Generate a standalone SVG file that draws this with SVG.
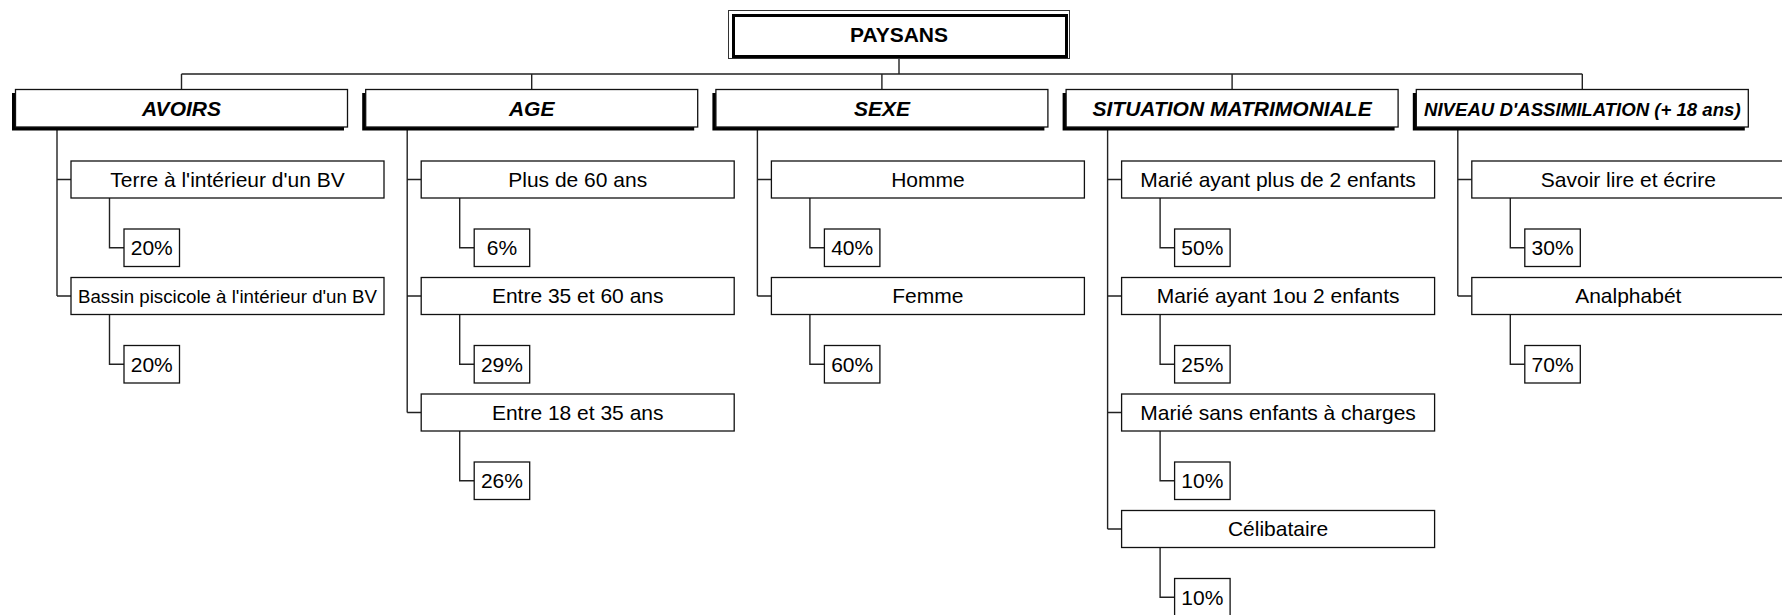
<svg xmlns="http://www.w3.org/2000/svg" width="1782" height="615" viewBox="0 0 1782 615">
<style>
text{font-family:"Liberation Sans",Arial,sans-serif;fill:#000;text-anchor:middle}
.t{font-size:21px}
.h{font-size:21px;font-weight:bold;font-style:italic}
.box{fill:#fff;stroke:#111;stroke-width:1.3}
.sh{fill:#000}
.ln{fill:none;stroke:#222;stroke-width:1.4}
</style>
<rect width="1782" height="615" fill="#fff"/>
<g id="connectors" class="ln">
<path d="M899,58.5V74M181.5,74H1582.3M181.5,74V89.5M531.7,74V89.5M881.9,74V89.5M1232.1,74V89.5M1582.3,74V89.5"/>
<!-- col0 -->
<path d="M57,127V296M57,179.5H71M57,296H71M109.5,198V247.75H124M109.5,314.5V364.25H124"/>
<!-- col1 -->
<path d="M407.2,127V412.5M407.2,179.5H421.2M407.2,296H421.2M407.2,412.5H421.2M459.7,198V247.75H474.2M459.7,314.5V364.25H474.2M459.7,431V480.75H474.2"/>
<!-- col2 -->
<path d="M757.4,127V296M757.4,179.5H771.4M757.4,296H771.4M809.9,198V247.75H824.4M809.9,314.5V364.25H824.4"/>
<!-- col3 -->
<path d="M1107.6,127V529M1107.6,179.5H1121.6M1107.6,296H1121.6M1107.6,412.5H1121.6M1107.6,529H1121.6M1160.1,198V247.75H1174.6M1160.1,314.5V364.25H1174.6M1160.1,431V480.75H1174.6M1160.1,547.5V597.25H1174.6"/>
<!-- col4 -->
<path d="M1457.8,127V296M1457.8,179.5H1471.8M1457.8,296H1471.8M1510.3,198V247.75H1524.8M1510.3,314.5V364.25H1524.8"/>
</g>
<g id="paysans">
<rect x="728.5" y="10.5" width="341" height="48" fill="#fff" stroke="#333" stroke-width="1"/>
<rect x="733.5" y="15.5" width="333" height="41" fill="#fff" stroke="#000" stroke-width="3"/>
<text x="899" y="42" style="font-size:21px;font-weight:bold">PAYSANS</text>
</g>
<g id="avoirs">
<rect class="sh" x="12" y="93" width="332" height="37.5"/>
<rect class="box" x="15.5" y="89.5" width="332" height="37.5"/>
<text class="h" x="181.5" y="116">AVOIRS</text>
</g>
<g id="age">
<rect class="sh" x="362.2" y="93" width="332" height="37.5"/>
<rect class="box" x="365.7" y="89.5" width="332" height="37.5"/>
<text class="h" x="531.7" y="116">AGE</text>
</g>
<g id="sexe">
<rect class="sh" x="712.4" y="93" width="332" height="37.5"/>
<rect class="box" x="715.9" y="89.5" width="332" height="37.5"/>
<text class="h" x="881.9" y="116">SEXE</text>
</g>
<g id="situation">
<rect class="sh" x="1062.6" y="93" width="332" height="37.5"/>
<rect class="box" x="1066.1" y="89.5" width="332" height="37.5"/>
<text class="h" x="1232.1" y="116">SITUATION MATRIMONIALE</text>
</g>
<g id="niveau">
<rect class="sh" x="1412.8" y="93" width="332" height="37.5"/>
<rect class="box" x="1416.3" y="89.5" width="332" height="37.5"/>
<text class="h" x="1582.3" y="115.5" style="font-size:18.6px">NIVEAU D'ASSIMILATION (+ 18 ans)</text>
</g>
<!-- AVOIRS children -->
<g id="terre"><rect class="box" x="71" y="161" width="313" height="37"/><text class="t" x="227.5" y="186.5">Terre à l'intérieur d'un BV</text></g>
<g id="terre-pct"><rect class="box" x="124" y="229" width="55.5" height="37.5"/><text class="t" x="151.75" y="255">20%</text></g>
<g id="bassin"><rect class="box" x="71" y="277.5" width="313" height="37"/><text class="t" x="227.5" y="302.5" style="font-size:18.7px">Bassin piscicole à l'intérieur d'un BV</text></g>
<g id="bassin-pct"><rect class="box" x="124" y="345.5" width="55.5" height="37.5"/><text class="t" x="151.75" y="371.5">20%</text></g>
<!-- AGE children -->
<g id="age60"><rect class="box" x="421.2" y="161" width="313" height="37"/><text class="t" x="577.7" y="186.5">Plus de 60 ans</text></g>
<g id="age60-pct"><rect class="box" x="474.2" y="229" width="55.5" height="37.5"/><text class="t" x="501.95" y="255">6%</text></g>
<g id="age35"><rect class="box" x="421.2" y="277.5" width="313" height="37"/><text class="t" x="577.7" y="303">Entre 35 et 60 ans</text></g>
<g id="age35-pct"><rect class="box" x="474.2" y="345.5" width="55.5" height="37.5"/><text class="t" x="501.95" y="371.5">29%</text></g>
<g id="age18"><rect class="box" x="421.2" y="394" width="313" height="37"/><text class="t" x="577.7" y="419.5">Entre 18 et 35 ans</text></g>
<g id="age18-pct"><rect class="box" x="474.2" y="462" width="55.5" height="37.5"/><text class="t" x="501.95" y="488">26%</text></g>
<!-- SEXE children -->
<g id="homme"><rect class="box" x="771.4" y="161" width="313" height="37"/><text class="t" x="927.9" y="186.5">Homme</text></g>
<g id="homme-pct"><rect class="box" x="824.4" y="229" width="55.5" height="37.5"/><text class="t" x="852.15" y="255">40%</text></g>
<g id="femme"><rect class="box" x="771.4" y="277.5" width="313" height="37"/><text class="t" x="927.9" y="303">Femme</text></g>
<g id="femme-pct"><rect class="box" x="824.4" y="345.5" width="55.5" height="37.5"/><text class="t" x="852.15" y="371.5">60%</text></g>
<!-- SITUATION children -->
<g id="m2"><rect class="box" x="1121.6" y="161" width="313" height="37"/><text class="t" x="1278.1" y="186.5">Marié ayant plus de 2 enfants</text></g>
<g id="m2-pct"><rect class="box" x="1174.6" y="229" width="55.5" height="37.5"/><text class="t" x="1202.35" y="255">50%</text></g>
<g id="m1"><rect class="box" x="1121.6" y="277.5" width="313" height="37"/><text class="t" x="1278.1" y="303">Marié ayant 1ou 2 enfants</text></g>
<g id="m1-pct"><rect class="box" x="1174.6" y="345.5" width="55.5" height="37.5"/><text class="t" x="1202.35" y="371.5">25%</text></g>
<g id="m0"><rect class="box" x="1121.6" y="394" width="313" height="37"/><text class="t" x="1278.1" y="419.5">Marié sans enfants à charges</text></g>
<g id="m0-pct"><rect class="box" x="1174.6" y="462" width="55.5" height="37.5"/><text class="t" x="1202.35" y="488">10%</text></g>
<g id="celib"><rect class="box" x="1121.6" y="510.5" width="313" height="37"/><text class="t" x="1278.1" y="536">Célibataire</text></g>
<g id="celib-pct"><rect class="box" x="1174.6" y="578.5" width="55.5" height="37.5"/><text class="t" x="1202.35" y="604.5">10%</text></g>
<!-- NIVEAU children -->
<g id="lire"><rect class="box" x="1471.8" y="161" width="313" height="37"/><text class="t" x="1628.3" y="186.5">Savoir lire et écrire</text></g>
<g id="lire-pct"><rect class="box" x="1524.8" y="229" width="55.5" height="37.5"/><text class="t" x="1552.55" y="255">30%</text></g>
<g id="analpha"><rect class="box" x="1471.8" y="277.5" width="313" height="37"/><text class="t" x="1628.3" y="303">Analphabét</text></g>
<g id="analpha-pct"><rect class="box" x="1524.8" y="345.5" width="55.5" height="37.5"/><text class="t" x="1552.55" y="371.5">70%</text></g>
</svg>
